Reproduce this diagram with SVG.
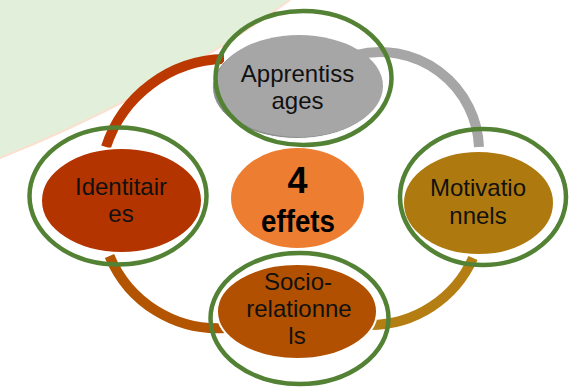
<svg xmlns="http://www.w3.org/2000/svg" width="569" height="387" viewBox="0 0 569 387">
<style>
.ring{fill:none;stroke:#548235;stroke-width:4.5}
.lbl{font-family:"Liberation Sans",Arial,sans-serif;font-size:24px;fill:#111;text-anchor:middle}
.big{font-family:"Liberation Sans",Arial,sans-serif;font-weight:bold;fill:#000;text-anchor:middle}
.arc{fill:none;stroke-width:10;stroke-linecap:butt}
.node{stroke:#fff;stroke-width:2}
</style>
<rect width="569" height="387" fill="#fff"/>
<path d="M0,0 L290,0 C200,65 100,118 0,158 Z" fill="#E2EFDA"/>
<path d="M290,0 C200,65 100,118 0,158" fill="none" stroke="#FBE0CF" stroke-width="2"/>
<g id="connectors">
<path class="arc" stroke="#BB3800" d="M106,147 A127,127 0 0 1 224,59"/>
<path class="arc" stroke="#A6A6A6" d="M356,55 A99,99 0 0 1 479,147"/>
<path class="arc" stroke="#B25400" d="M109.5,256 A117,117 0 0 0 226,328"/>
<path class="arc" stroke="#B47E12" d="M473,258 A113,113 0 0 1 370,325"/>
</g>
<g id="center">
<ellipse cx="297.5" cy="198" rx="66.5" ry="50" fill="#ED7D31"/>
<text class="big" x="297.5" y="193" font-size="36">4</text>
<text class="big" x="298" y="232" font-size="31" textLength="74" lengthAdjust="spacingAndGlyphs">effets</text>
</g>
<g id="apprentissages">
<ellipse cx="297" cy="87.5" rx="84.5" ry="51" fill="#8E8E8E" stroke="#fff" stroke-width="1"/>
<ellipse cx="299" cy="86" rx="84" ry="51" fill="#A6A6A6"/>
<ellipse class="ring" cx="303.5" cy="78" rx="88" ry="67"/>
<text class="lbl" x="297.5" y="82">Apprentiss</text>
<text class="lbl" x="297.5" y="109">ages</text>
</g>
<g id="identitaires">
<ellipse class="node" cx="121.5" cy="200.5" rx="80.5" ry="52.5" fill="#B43400"/>
<ellipse class="ring" cx="118" cy="196" rx="88.5" ry="68.5"/>
<text class="lbl" x="121" y="195">Identitair</text>
<text class="lbl" x="121" y="222">es</text>
</g>
<g id="motivationnels">
<ellipse class="node" cx="478.5" cy="203" rx="75.5" ry="52" fill="#AE7A10"/>
<ellipse class="ring" cx="483" cy="197" rx="83" ry="68"/>
<text class="lbl" x="478" y="196">Motivatio</text>
<text class="lbl" x="478" y="224">nnels</text>
</g>
<g id="sociorelationnels">
<ellipse class="node" cx="297" cy="311.5" rx="80" ry="47.5" fill="#B05000"/>
<ellipse class="ring" cx="299.5" cy="318.5" rx="89" ry="65.5"/>
<text class="lbl" x="298" y="290">Socio-</text>
<text class="lbl" x="299" y="317">relationne</text>
<text class="lbl" x="297" y="344">ls</text>
</g>
</svg>
